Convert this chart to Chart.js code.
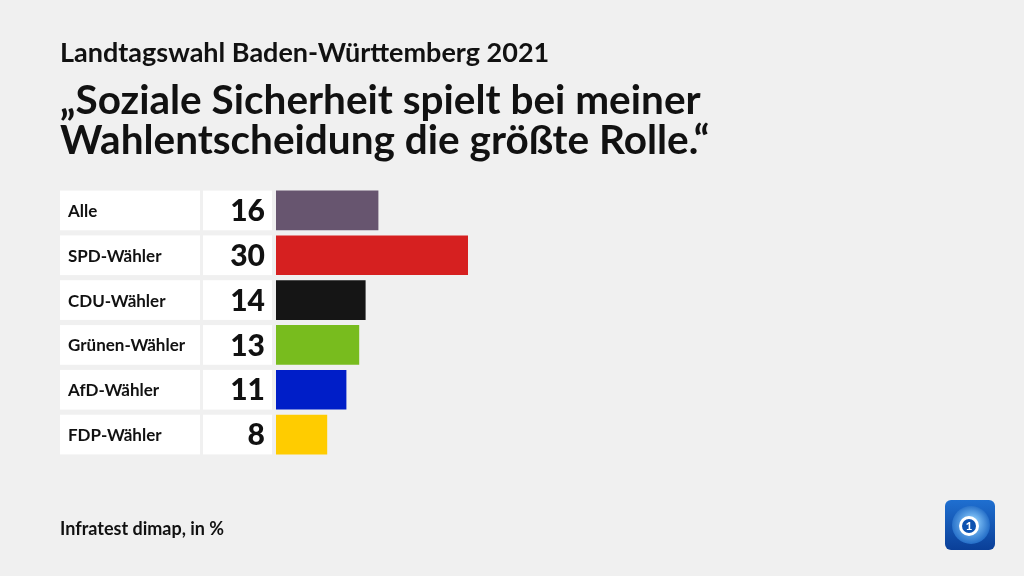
<!DOCTYPE html>
<html><head><meta charset="utf-8">
<script src="https://cdn.jsdelivr.net/npm/chart.js@4/dist/chart.umd.min.js"></script>
<style>html,body{margin:0;padding:0;background:#f0f0f0;}#wrap{position:relative;width:1024px;height:576px;}</style>
</head><body><div id="wrap"><canvas id="c" width="1024" height="576"></canvas></div>
<script>
const categories = ["Alle", "SPD-Wähler", "CDU-Wähler", "Grünen-Wähler", "AfD-Wähler", "FDP-Wähler"];
const values = [16, 30, 14, 13, 11, 8];
const valueLabels = ["16", "30", "14", "13", "11", "8"];
const barColors = ["#67556f", "#d62020", "#151515", "#78bc1e", "#001ec8", "#ffcc00"];
const subtitleText = "Landtagswahl Baden-Württemberg 2021";
const titleLines = ["„Soziale Sicherheit spielt bei meiner", "Wahlentscheidung die größte Rolle.“"];
const sourceText = "Infratest dimap, in %";

const FONT = "Lato, 'Noto Sans', sans-serif";

const decor = {
  id: 'decor',
  beforeDraw(chart) {
    const ctx = chart.ctx;
    ctx.save();
    ctx.fillStyle = '#f0f0f0';
    ctx.fillRect(0, 0, chart.width, chart.height);
    ctx.fillStyle = '#111';
    ctx.textBaseline = 'alphabetic';
    ctx.textAlign = 'left';
    ctx.font = "bold 27px " + FONT;
    ctx.fillText(subtitleText, 60, 62);
    ctx.font = "bold 40.5px " + FONT;
    ctx.fillText(titleLines[0], 60, 114);
    ctx.fillText(titleLines[1], 60, 154);
    ctx.font = "bold 18px " + FONT;
    ctx.fillText(sourceText, 60, 535);
    // logo
    const lx = 945, ly = 500, ls = 50;
    const g = ctx.createLinearGradient(lx, ly, lx, ly + ls);
    g.addColorStop(0, '#1f6fd0'); g.addColorStop(1, '#0a3f98');
    ctx.fillStyle = g;
    ctx.beginPath();
    ctx.roundRect(lx, ly, ls, ls, 6);
    ctx.fill();
    const rg = ctx.createRadialGradient(lx + 28, ly + 22, 2, lx + 25, ly + 25, 22);
    rg.addColorStop(0, '#8fd0ff'); rg.addColorStop(1, '#1560c0');
    ctx.fillStyle = rg;
    ctx.beginPath(); ctx.arc(lx + 26, ly + 25, 19, 0, Math.PI * 2); ctx.fill();
    ctx.fillStyle = '#ffffff';
    ctx.beginPath(); ctx.arc(lx + 24, ly + 26, 10, 0, Math.PI * 2); ctx.fill();
    ctx.fillStyle = '#0d52b0';
    ctx.beginPath(); ctx.arc(lx + 24, ly + 26, 7, 0, Math.PI * 2); ctx.fill();
    ctx.fillStyle = '#ffffff';
    ctx.font = "bold 12px " + FONT;
    ctx.textAlign = 'center';
    ctx.fillText("1", lx + 24, ly + 30);
    ctx.restore();
  },
  afterDatasetsDraw(chart) {
    const ctx = chart.ctx;
    const meta = chart.getDatasetMeta(0);
    ctx.save();
    meta.data.forEach((el, i) => {
      const h = el.height;
      const top = el.y - h / 2;
      ctx.fillStyle = '#ffffff';
      ctx.fillRect(60, top, 140, h);
      ctx.fillRect(203, top, 69, h);
      ctx.fillStyle = '#111';
      ctx.textBaseline = 'middle';
      ctx.textAlign = 'left';
      ctx.font = "bold 17px " + FONT;
      ctx.fillText(categories[i], 68, el.y + 1);
      ctx.textAlign = 'right';
      ctx.font = "900 30px " + FONT;
      ctx.fillText(valueLabels[i], 265, el.y + 1);
    });
    ctx.restore();
  }
};

new Chart(document.getElementById('c'), {
  type: 'bar',
  data: {
    labels: categories,
    datasets: [{
      data: values,
      backgroundColor: barColors,
      borderWidth: 0,
      barPercentage: 1,
      categoryPercentage: 0.885
    }]
  },
  options: {
    indexAxis: 'y',
    responsive: false,
    animation: false,
    layout: { padding: { left: 276, right: 108, top: 188, bottom: 119 } },
    scales: {
      x: { display: false, min: 0, max: 100 },
      y: { display: false }
    },
    plugins: { legend: { display: false }, tooltip: { enabled: false }, title: { display: false } }
  },
  plugins: [decor]
});
</script>
</body></html>
